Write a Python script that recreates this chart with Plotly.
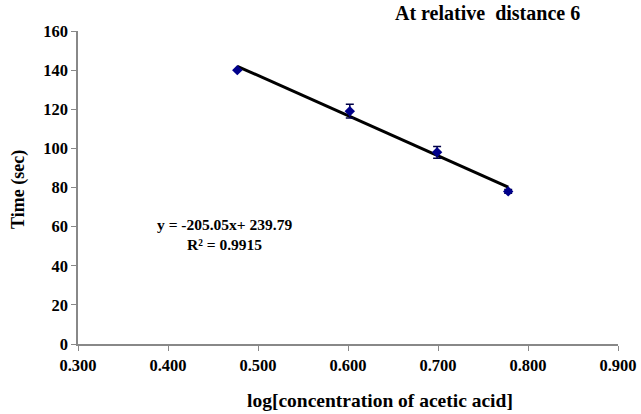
import numpy as np
import plotly.graph_objects as go

log_conc = [0.477, 0.602, 0.699, 0.778]
time_sec = [140, 119, 98, 78]
err = [0.0, 3.5, 3.0, 1.0]

x_ticks = [0.3, 0.4, 0.5, 0.6, 0.7, 0.8, 0.9]
x_tick_labels = ["0.300", "0.400", "0.500", "0.600", "0.700", "0.800", "0.900"]
y_ticks = [0, 20, 40, 60, 80, 100, 120, 140, 160]

slope, intercept = np.polyfit(log_conc, time_sec, 1)
fit_x = [min(log_conc), max(log_conc)]
fit_y = [slope * v + intercept for v in fit_x]

FONT = "Liberation Serif"
W, H = 641, 414
L, R, T, B = 78, 23, 31, 70
PW, PH = W - L - R, H - T - B


def px(xp):
    return (xp - L) / PW


def py(yp):
    return (H - B - yp) / PH


fig = go.Figure()
fig.add_trace(go.Scatter(
    x=fit_x, y=fit_y, mode="lines",
    line=dict(color="black", width=3), showlegend=False, hoverinfo="skip"))
fig.add_trace(go.Scatter(
    x=log_conc, y=time_sec, mode="markers",
    marker=dict(symbol="diamond", size=8, color="#00008B"),
    error_y=dict(type="data", array=err, visible=True, color="#000044", thickness=1.5, width=4),
    showlegend=False))

bold = dict(family=FONT, color="black", weight="bold")

fig.add_annotation(
    x=px(224), y=py(234), xref="paper", yref="paper", showarrow=False,
    text="y = -205.05x+ 239.79<br>R² = 0.9915", align="center",
    xanchor="center", yanchor="middle",
    font=dict(size=15.5, **bold))
fig.add_annotation(
    x=px(487), y=py(13), xref="paper", yref="paper", showarrow=False,
    text="At relative  distance 6", xanchor="center", yanchor="middle",
    font=dict(size=20, **bold))
fig.add_annotation(
    x=px(380), y=py(400), xref="paper", yref="paper", showarrow=False,
    text="log[concentration of acetic acid]", xanchor="center", yanchor="middle",
    font=dict(size=19.5, **bold))
fig.add_annotation(
    x=px(18), y=py(190), xref="paper", yref="paper", showarrow=False,
    text="Time (sec)", textangle=-90, xanchor="center", yanchor="middle",
    font=dict(size=18, **bold))

fig.update_layout(
    width=W, height=H,
    margin=dict(l=L, r=R, t=T, b=B),
    paper_bgcolor="white", plot_bgcolor="white",
    font=dict(family=FONT, size=16, color="black"),
    xaxis=dict(
        range=[0.3, 0.9], tickvals=x_ticks, ticktext=x_tick_labels, automargin=False,
        showgrid=False, zeroline=False, showline=True, linecolor="#888888", linewidth=1.5,
        ticks="outside", ticklen=5, tickcolor="#888888",
        tickfont=dict(size=16.5, **bold)),
    yaxis=dict(
        range=[0, 160], tickvals=y_ticks, automargin=False,
        showgrid=False, zeroline=False, showline=True, linecolor="#888888", linewidth=1.5,
        ticks="outside", ticklen=5, tickcolor="#888888",
        tickfont=dict(size=16.5, **bold)),
)

fig.write_html("out.html", config={"displayModeBar": False},
               post_script="document.body.style.margin='0';document.body.style.overflow='hidden';")
